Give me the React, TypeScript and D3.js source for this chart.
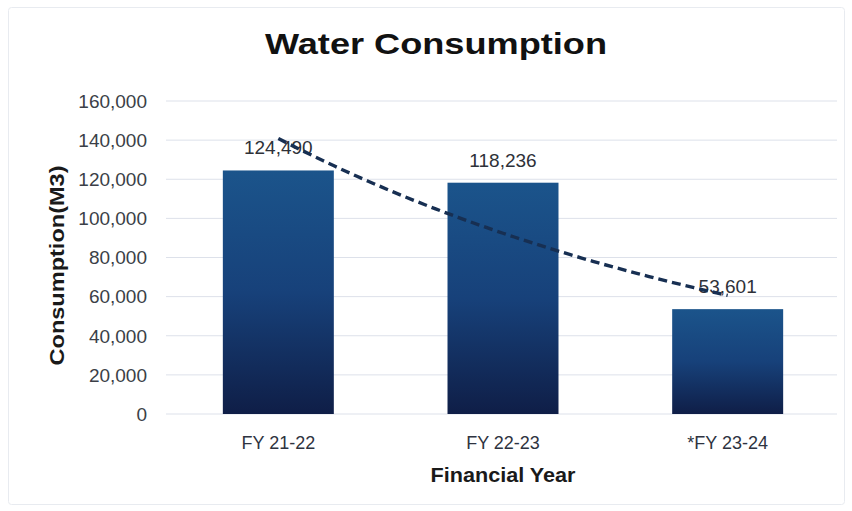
import React from "react";
import * as d3 from "d3";

const categories = ["FY 21-22", "FY 22-23", "*FY 23-24"];
const consumption = [124490, 118236, 53601];
const yTicks = [0, 20000, 40000, 60000, 80000, 100000, 120000, 140000, 160000];
const chartTitle = "Water Consumption";
const xTitle = "Financial Year";
const yTitle = "Consumption(M3)";

const W = 852;
const H = 511;
const plot = { left: 166, right: 840, top: 101, bottom: 414 };

export default function App() {
  const x = d3
    .scaleBand<string>()
    .domain(categories)
    .range([plot.left, plot.right])
    .paddingInner(0.506)
    .paddingOuter(0.253);
  const y = d3.scaleLinear().domain([0, 160000]).range([plot.bottom, plot.top]);
  const fmt = d3.format(",");

  // exponential trendline fitted to the data (least squares on ln(y))
  const idx = consumption.map((_, i) => i + 1);
  const lny = consumption.map((v) => Math.log(v));
  const mx = d3.mean(idx) as number;
  const my = d3.mean(lny) as number;
  const slope =
    d3.sum(idx.map((xi, i) => (xi - mx) * (lny[i] - my))) /
    d3.sum(idx.map((xi) => (xi - mx) ** 2));
  const intercept = my - slope * mx;
  const xc = d3
    .scaleLinear()
    .domain([1, categories.length])
    .range([
      (x(categories[0]) as number) + x.bandwidth() / 2,
      (x(categories[categories.length - 1]) as number) + x.bandwidth() / 2,
    ]);
  const trendPts = d3
    .range(1, categories.length + 0.001, 0.05)
    .map((t) => [t, Math.exp(intercept + slope * t)] as [number, number]);
  const trendPath = d3
    .line<[number, number]>()
    .x((d) => xc(d[0]))
    .y((d) => y(d[1]))(trendPts) as string;

  const font = "'Liberation Sans', Arial, sans-serif";

  return (
    <svg
      width={W}
      height={H}
      style={{ position: "absolute", left: 0, top: 0, background: "#fff" }}
      fontFamily={font}
    >
      <defs>
        <linearGradient id="barGrad" x1="0" y1="0" x2="0" y2="1">
          <stop offset="0%" stopColor="#1b548b" />
          <stop offset="50%" stopColor="#17417a" />
          <stop offset="100%" stopColor="#0f1e47" />
        </linearGradient>
      </defs>
      <rect x={8.5} y={7.5} width={836} height={497} rx={3} fill="#fff" stroke="#e8ebf0" strokeWidth={1} />

      <text
        x={436}
        y={54}
        textAnchor="middle"
        fontSize={30}
        fontWeight="bold"
        fill="#111"
        textLength={342}
        lengthAdjust="spacingAndGlyphs"
      >
        {chartTitle}
      </text>

      {yTicks.map((t) => (
        <g key={t}>
          <line x1={plot.left} x2={plot.right - 3} y1={y(t)} y2={y(t)} stroke="#dde1ea" strokeWidth={1} />
          <text x={147} y={y(t)} dy="0.36em" textAnchor="end" fontSize={19} fill="#3b3f47">
            {fmt(t)}
          </text>
        </g>
      ))}

      {categories.map((c, i) => (
        <g key={c}>
          <rect
            x={x(c)}
            y={y(consumption[i])}
            width={x.bandwidth()}
            height={y(0) - y(consumption[i])}
            fill="url(#barGrad)"
          />
          <text
            x={(x(c) as number) + x.bandwidth() / 2}
            y={y(consumption[i]) - 16}
            textAnchor="middle"
            fontSize={19}
            fill="#2e3138"
          >
            {fmt(consumption[i])}
          </text>
          <text
            x={(x(c) as number) + x.bandwidth() / 2}
            y={449}
            textAnchor="middle"
            fontSize={18}
            fill="#2e3340"
          >
            {c}
          </text>
        </g>
      ))}

      <path d={trendPath} fill="none" stroke="#172f52" strokeWidth={3.4} strokeDasharray="9 5" />

      <text
        x={(plot.left + plot.right) / 2}
        y={482}
        textAnchor="middle"
        fontSize={21}
        fontWeight="bold"
        fill="#1a1a1a"
        textLength={145}
        lengthAdjust="spacingAndGlyphs"
      >
        {xTitle}
      </text>
      <text
        transform={`translate(64, ${(plot.top + plot.bottom) / 2 + 8}) rotate(-90)`}
        textAnchor="middle"
        fontSize={21}
        fontWeight="bold"
        fill="#1a1a1a"
        textLength={200}
        lengthAdjust="spacingAndGlyphs"
      >
        {yTitle}
      </text>
    </svg>
  );
}
